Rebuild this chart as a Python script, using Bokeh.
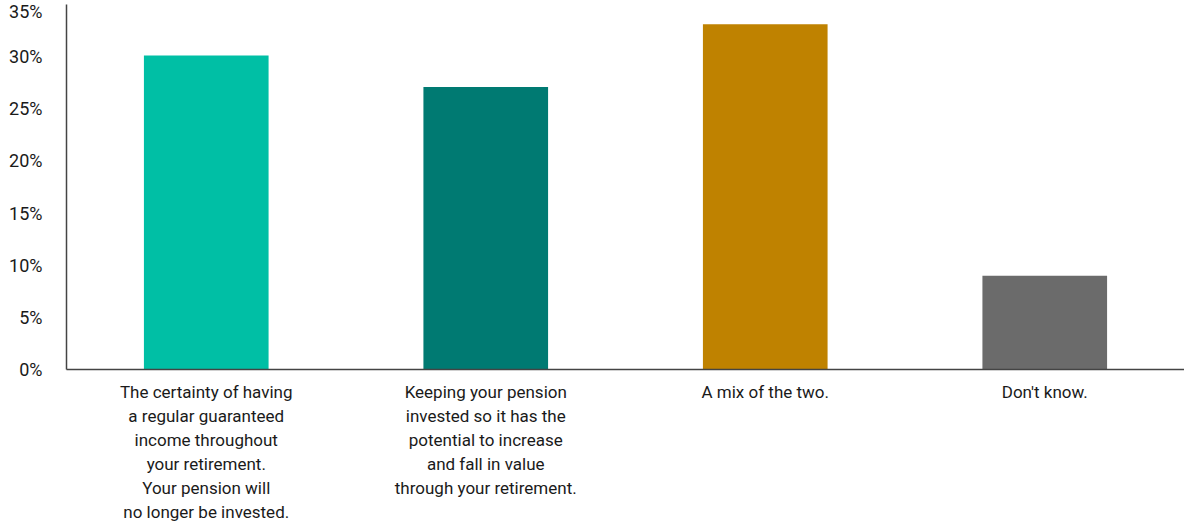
from bokeh.plotting import figure
from bokeh.models import ColumnDataSource, FactorRange, Range1d, FixedTicker, PrintfTickFormatter
from bokeh.embed import file_html
from bokeh.resources import INLINE

categories = [
    "The certainty of having\na regular guaranteed\nincome throughout\nyour retirement.\nYour pension will\nno longer be invested.",
    "Keeping your pension\ninvested so it has the\npotential to increase\nand fall in value\nthrough your retirement.",
    "A mix of the two.",
    "Don't know.",
]
values = [30.1, 27.1, 33.1, 9.0]
colors = ["#00BFA5", "#007A72", "#BF8200", "#6B6B6B"]
y_ticks = [0, 5, 10, 15, 20, 25, 30, 35]

FONT = "Roboto"

source = ColumnDataSource(data=dict(cat=categories, val=values, color=colors))

p = figure(
    x_range=FactorRange(*categories, range_padding=0),
    y_range=Range1d(0, 35),
    width=1184, height=524,
    output_backend="svg", toolbar_location=None,
    min_border_left=66, min_border_right=0, min_border_top=4, min_border_bottom=140,
)
p.vbar(x="cat", top="val", width=0.446, color="color", source=source, line_color=None)

p.xgrid.grid_line_color = None
p.ygrid.grid_line_color = None
p.outline_line_color = None
p.background_fill_color = "white"
p.border_fill_color = "white"

p.yaxis.ticker = FixedTicker(ticks=y_ticks)
p.yaxis.formatter = PrintfTickFormatter(format="%d%%")
for ax in (p.xaxis[0], p.yaxis[0]):
    ax.major_tick_line_color = None
    ax.minor_tick_line_color = None
    ax.axis_line_color = "#444444"
    ax.axis_line_width = 1.5
    ax.major_label_text_font = FONT
    ax.major_label_text_color = "#1a1a1a"
p.yaxis.major_label_text_font_size = "18px"
p.yaxis.major_label_text_baseline = "top"
p.xaxis.major_label_text_font_size = "17px"
p.xaxis.major_label_text_line_height = 1.2
p.yaxis.major_label_standoff = 18
p.xaxis.major_label_standoff = 6

open("out.html", "w").write(file_html(p, INLINE))
